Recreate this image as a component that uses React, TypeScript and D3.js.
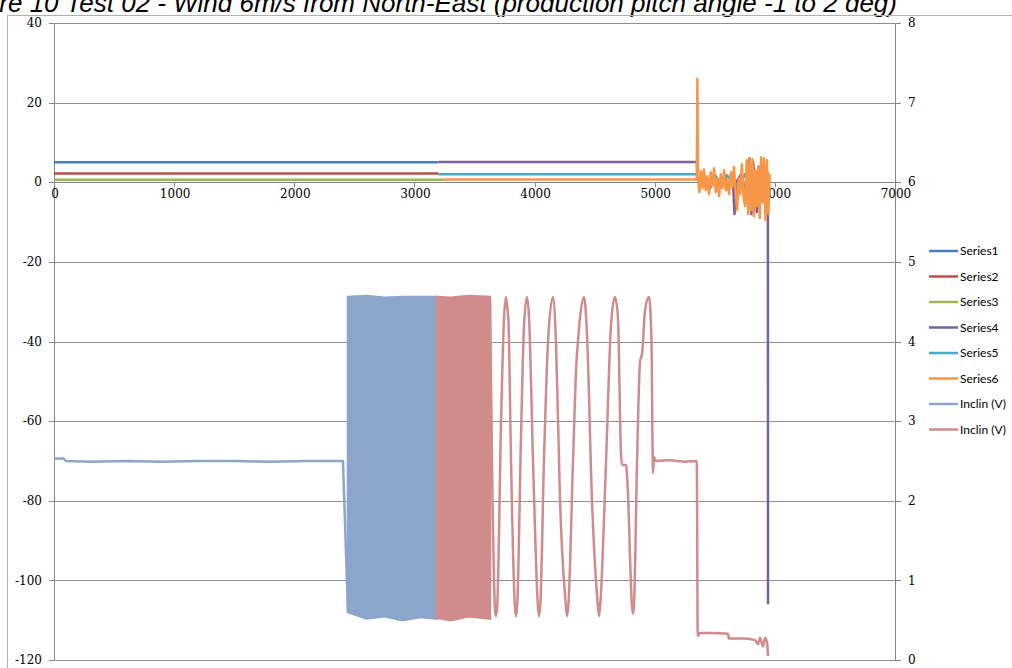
import React from "react";
import * as d3 from "d3";

// ---------- data ----------
const titleText = "Figure 10 Test 02 - Wind 6m/s from North-East (production pitch angle -1 to 2 deg)";
const xTicks = [0, 1000, 2000, 3000, 4000, 5000, 6000, 7000];
const leftTicks = [-120, -100, -80, -60, -40, -20, 0, 20, 40];
const rightTicks = [0, 1, 2, 3, 4, 5, 6, 7, 8];

const series1: [number, number][] = [[0, 5], [3200, 5]];
const series2: [number, number][] = [[0, 2.2], [3200, 2.2]];
const series3: [number, number][] = [[0, 0.6], [3240, 0.6]];
const series4: [number, number][] = [
  [3200, 5.1], [5350, 5.1], [5360, 0.5], [5380, -1], [5420, 1], [5460, -1.5], [5500, 0.5],
  [5540, -1], [5580, 1.5], [5620, -0.5], [5650, 1], [5664, -8], [5676, 0], [5720, 2],
  [5760, -3], [5790, 6], [5805, -8], [5820, 5], [5850, -7.5], [5880, 4], [5910, -5],
  [5930, 3], [5942, 2], [5943, -106],
];
const series5: [number, number][] = [
  [3200, 2], [5350, 2], [5365, 0.5], [5400, 1.5], [5450, -1], [5500, 2], [5550, -0.5],
  [5600, 1.8], [5650, 0], [5700, -1], [5750, 2], [5800, -2], [5850, 1], [5900, -1], [5950, 0],
];
const series6: [number, number][] = [
  [3240, 0.7], [5350, 0.7], [5355, 26], [5360, 1], [5372, -2.5], [5385, 2.8], [5398, -1.5],
  [5410, 3.2], [5424, -2], [5438, 1.5], [5452, -3], [5466, 2.5], [5480, -1], [5494, 3.5],
  [5508, -2.5], [5522, 1], [5536, -3.5], [5550, 2], [5564, -1.5], [5578, 3], [5592, -2],
  [5606, 0.5], [5620, -3], [5634, 2.5], [5648, -1], [5660, 3.8], [5672, -2.5], [5686, -7],
  [5700, 1], [5712, -3], [5726, 4.5], [5740, -4], [5752, -6], [5766, 5.5], [5778, -8],
  [5790, 6], [5802, -7], [5814, 5.8], [5826, -8.5], [5838, 3], [5850, -6], [5862, 4],
  [5874, -9], [5886, 6.2], [5898, -5], [5910, 6], [5922, -9.5], [5934, 5.5], [5946, -8], [5958, 2],
];

// Inclin (V) on the secondary axis
const inclin1: [number, number][] = [
  [0, 2.53], [80, 2.53], [100, 2.5], [300, 2.49], [600, 2.5], [900, 2.49], [1200, 2.5],
  [1500, 2.5], [1800, 2.49], [2100, 2.5], [2405, 2.5], [2447, 0.6],
];
// dense oscillation envelopes [x, low, high]
const inclin1Band: [number, number, number][] = [
  [2447, 0.6, 4.56], [2600, 0.52, 4.57], [2750, 0.55, 4.55], [2900, 0.5, 4.56],
  [3050, 0.54, 4.56], [3188, 0.52, 4.56],
];
const inclin2Band: [number, number, number][] = [
  [3188, 0.53, 4.56], [3300, 0.5, 4.55], [3450, 0.55, 4.57], [3629, 0.52, 4.56],
];
const inclin2: [number, number][] = [
  [3629, 4.5], [3650, 2.0], [3672, 0.6], [3679, 0.55], [3690, 0.7], [3721, 3.0], [3746, 4.3], [3762, 4.56],
  [3775, 4.4], [3783, 4.25], [3804, 2.5], [3835, 0.7], [3845, 0.55], [3856, 0.7], [3887, 2.8], [3912, 4.2],
  [3937, 4.56], [3954, 4.3], [3987, 2.5], [4027, 0.7], [4037, 0.55], [4048, 0.7], [4078, 2.5], [4112, 4.0],
  [4153, 4.56], [4178, 4.0], [4212, 2.0], [4260, 0.7], [4270, 0.55], [4282, 0.7], [4320, 2.5],
  [4349, 3.75], [4357, 3.92], [4378, 4.3], [4411, 4.56], [4436, 4.1], [4478, 2.0], [4526, 0.7], [4536, 0.55],
  [4547, 0.7], [4595, 2.5], [4636, 4.2], [4669, 4.56], [4694, 4.3], [4719, 2.6], [4728, 2.45], [4761, 2.45],
  [4774, 2.2], [4810, 0.7], [4819, 0.58], [4828, 0.7], [4853, 2.5], [4878, 3.75], [4895, 3.85], [4920, 4.4], [4953, 4.56],
  [4973, 4.0], [4986, 2.35], [4994, 2.55], [5011, 2.5], [5127, 2.51], [5252, 2.49], [5350, 2.5],
  [5358, 0.3], [5377, 0.34], [5477, 0.34], [5610, 0.33], [5618, 0.27], [5752, 0.27],
  [5835, 0.25], [5860, 0.2], [5876, 0.28], [5901, 0.17], [5918, 0.28], [5935, 0.22], [5943, 0.05],
];

const legendNames = ["Series1", "Series2", "Series3", "Series4", "Series5", "Series6", "Inclin (V)", "Inclin (V)"];
const colors = ["#4a7ebb", "#be4b48", "#98b954", "#7d5fa0", "#46aac5", "#f79646", "#8ba5cb", "#cf8c8a"];

// ---------- chart ----------
export default function App() {
  const W = 1012, H = 668;
  const x = d3.scaleLinear().domain([0, 7000]).range([54, 895]);
  const yL = d3.scaleLinear().domain([-120, 40]).range([660, 23]);
  const yR = d3.scaleLinear().domain([0, 8]).range([660, 23]);

  const lineL = d3.line<[number, number]>().x(d => x(d[0])).y(d => yL(d[1]));
  const lineR = d3.line<[number, number]>().x(d => x(d[0])).y(d => yR(d[1]));
  const lineRSmooth = d3.line<[number, number]>().x(d => x(d[0])).y(d => yR(d[1])).curve(d3.curveMonotoneX);
  const band = d3.area<[number, number, number]>().x(d => x(d[0])).y0(d => yR(d[1])).y1(d => yR(d[2]));

  const axisColor = "#868686";
  const gridColor = "#8e8e8e";
  const tickFont = "'DejaVu Serif', serif";
  const y0 = yL(0);

  const leftSeries = [series1, series2, series3, series4, series5, series6];

  return (
    <svg width={W} height={H} style={{ position: "absolute", left: 0, top: 0, background: "#fff" }}>
      <rect x={0} y={0} width={W} height={H} fill="#fff" />
      <text x={897} y={12} textAnchor="end" fontFamily="'Liberation Sans', Arial, sans-serif"
        fontStyle="italic" fontSize={26} fill="#000">{titleText}</text>
      <rect x={7.5} y={15.5} width={W + 10} height={H + 10} fill="none" stroke="#b0b0b0" strokeWidth={1} />

      {/* gridlines */}
      {leftTicks.map(t => (
        <line key={"g" + t} x1={54} x2={895} y1={Math.round(yL(t)) + 0.5} y2={Math.round(yL(t)) + 0.5}
          stroke={gridColor} strokeWidth={1} />
      ))}
      {/* left axis */}
      <line x1={54.5} x2={54.5} y1={yL(40)} y2={yL(-120)} stroke={axisColor} />
      {leftTicks.map(t => (
        <g key={"l" + t}>
          <line x1={49} x2={54} y1={Math.round(yL(t)) + 0.5} y2={Math.round(yL(t)) + 0.5} stroke={axisColor} />
          <text x={42} y={yL(t)} dy="0.35em" textAnchor="end" fontFamily={tickFont} fontSize={12} fill="#000">{t}</text>
        </g>
      ))}
      {/* right axis */}
      <line x1={895.5} x2={895.5} y1={yR(8)} y2={yR(0)} stroke={axisColor} />
      {rightTicks.map(t => (
        <g key={"r" + t}>
          <line x1={895} x2={901} y1={Math.round(yR(t)) + 0.5} y2={Math.round(yR(t)) + 0.5} stroke={axisColor} />
          <text x={908} y={yR(t)} dy="0.35em" textAnchor="start" fontFamily={tickFont} fontSize={12} fill="#000">{t}</text>
        </g>
      ))}
      {/* x axis at y=0 */}
      <line x1={54} x2={895} y1={Math.round(y0) + 0.5} y2={Math.round(y0) + 0.5} stroke={axisColor} />
      {xTicks.map(t => (
        <g key={"x" + t}>
          <line x1={Math.round(x(t)) + 0.5} x2={Math.round(x(t)) + 0.5} y1={y0} y2={y0 + 5} stroke={axisColor} />
          <text x={x(t) + 1} y={y0 + 16} textAnchor="middle" fontFamily={tickFont} fontSize={12} fill="#000">{t}</text>
        </g>
      ))}

      {/* Inclin series (secondary axis) */}
      <path d={band(inclin1Band) || ""} fill={colors[6]} stroke={colors[6]} strokeWidth={2.5} />
      <path d={lineR(inclin1) || ""} fill="none" stroke={colors[6]} strokeWidth={2.5} strokeLinejoin="round" />
      <path d={band(inclin2Band) || ""} fill={colors[7]} stroke={colors[7]} strokeWidth={2.5} />
      <path d={lineRSmooth(inclin2) || ""} fill="none" stroke={colors[7]} strokeWidth={2.5} strokeLinejoin="round" />

      {/* primary series */}
      {leftSeries.map((s, i) => (
        <path key={"s" + i} d={lineL(s) || ""} fill="none" stroke={colors[i]} strokeWidth={2.5} strokeLinejoin="round" />
      ))}

      {/* legend */}
      {legendNames.map((n, i) => {
        const ly = 251 + i * 25.5;
        return (
          <g key={"lg" + i}>
            <line x1={929} x2={958} y1={ly} y2={ly} stroke={colors[i]} strokeWidth={2.5} />
            <text x={960} y={ly} dy="0.35em" fontFamily="Lato, 'Open Sans', sans-serif" fontSize={12} fill="#000">{n}</text>
          </g>
        );
      })}
    </svg>
  );
}
